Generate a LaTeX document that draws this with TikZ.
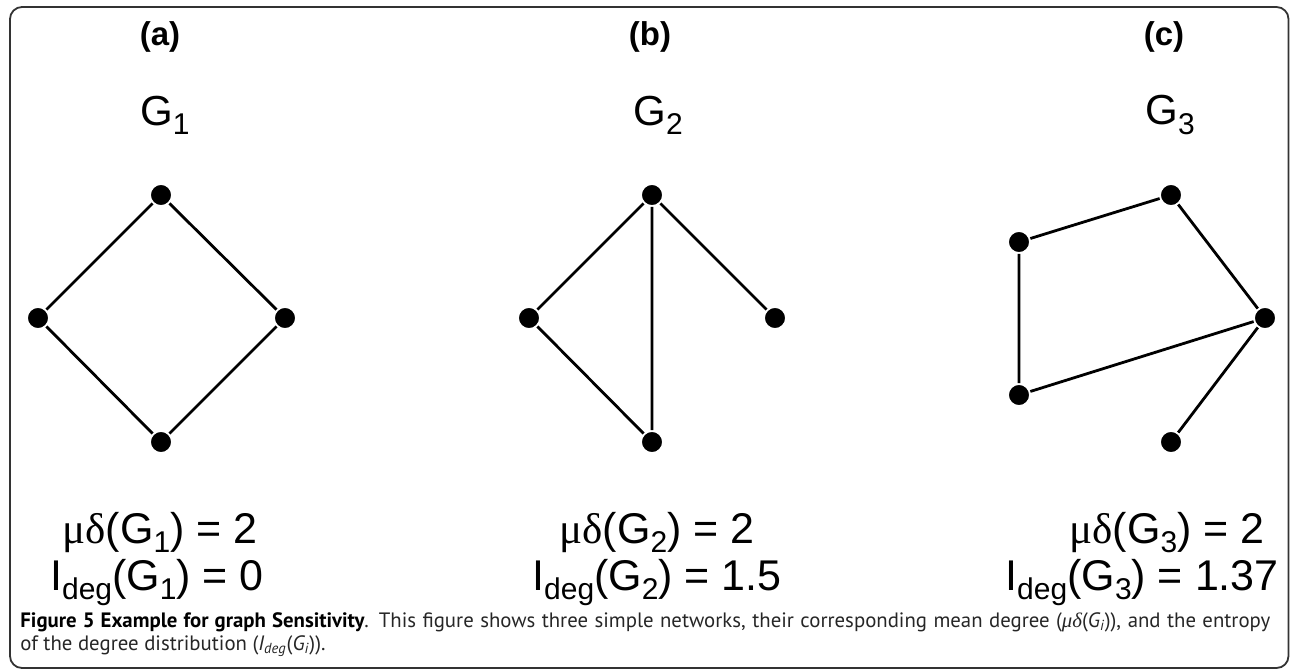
\documentclass[tikz,border=0pt]{standalone}
\usepackage{fontspec}
\setmainfont{Liberation Sans}
\newfontfamily\greekfont{Liberation Serif}
\newfontfamily\capfont{PT Sans}
\usetikzlibrary{positioning}

\newcommand{\lowsub}[1]{\raisebox{-0.42ex}{\fontsize{15}{15}\selectfont #1}}

\begin{document}
\begin{tikzpicture}[
    x=0.5pt, y=-0.5pt,
    % --- Global Styles ---
    vertex/.style={circle, fill=black, draw=white, line width=0.9pt, inner sep=0pt, minimum size=11pt},
    link/.style={line width=1.4pt, black},
    panel/.style={font=\fontsize{16.5}{18}\selectfont\bfseries},
    gname/.style={font=\fontsize{21}{24}\selectfont},
    formula/.style={anchor=base, inner sep=0pt, font=\fontsize{21.5}{24}\selectfont},
    caption/.style={anchor=north west, inner sep=0pt, align=justify, text width=625pt,
        text=black!85, font=\capfont\fontsize{10.4}{11.5}\selectfont},
    frame/.style={draw=black!80, line width=0.9pt, rounded corners=6pt}
]
    \useasboundingbox (0,0) rectangle (1290,670);
    \draw[frame] (10,7) rectangle (1288.5,668);

    % --- Panel titles ---
    \node[panel] (ta) at (160,37) {(a)};
    \node[panel] (tb) at (650,37) {(b)};
    \node[panel] (tc) at (1164,37) {(c)};
    \node[gname] (na) at (165,115) {G\lowsub{1}};
    \node[gname] (nb) at (658,115) {G\lowsub{2}};
    \node[gname] (nc) at (1170,115) {G\lowsub{3}};

    % --- Graph G1 ---
    \node[vertex] (g1n) at (161,195) {};
    \node[vertex] (g1w) at (38,318) {};
    \node[vertex] (g1e) at (285,318) {};
    \node[vertex] (g1s) at (161,442) {};
    \draw[link] (g1n) -- (g1w) (g1n) -- (g1e) (g1w) -- (g1s) (g1e) -- (g1s);

    % --- Graph G2 ---
    \node[vertex] (g2n) at (652,195) {};
    \node[vertex] (g2w) at (529,318) {};
    \node[vertex] (g2e) at (775,318) {};
    \node[vertex] (g2s) at (652,442) {};
    \draw[link] (g2n) -- (g2w) (g2n) -- (g2s) (g2n) -- (g2e) (g2w) -- (g2s);

    % --- Graph G3 ---
    \node[vertex] (g3n) at (1171,195) {};
    \node[vertex] (g3a) at (1019,242) {};
    \node[vertex] (g3b) at (1019,395) {};
    \node[vertex] (g3e) at (1265,318) {};
    \node[vertex] (g3s) at (1171,442) {};
    \draw[link] (g3n) -- (g3a) (g3a) -- (g3b) (g3n) -- (g3e) (g3b) -- (g3e) (g3e) -- (g3s);

    % --- Measures ---
    \node[formula] (ma) at (160,543) {{\greekfont μδ}(G\lowsub{1}) = 2};
    \node[formula] (ia) at (157,590) {I\lowsub{deg}(G\lowsub{1}) = 0};
    \node[formula] (mb) at (657,543) {{\greekfont μδ}(G\lowsub{2}) = 2};
    \node[formula] (ib) at (657,590) {I\lowsub{deg}(G\lowsub{2}) = 1.5};
    \node[formula] (mc) at (1167,543) {{\greekfont μδ}(G\lowsub{3}) = 2};
    \node[formula] (ic) at (1142,590) {I\lowsub{deg}(G\lowsub{3}) = 1.37};

    % --- Caption ---
    \node[caption] (cap) at (20,612) {{\bfseries\color{black}Figure 5 Example for graph Sensitivity}. This figure shows three simple networks, their corresponding mean degree ({\greekfont\itshape μδ}({\itshape G\textsubscript{i}})), and the entropy\linebreak of the degree distribution ({\itshape I\textsubscript{deg}}({\itshape G\textsubscript{i}})).};
\end{tikzpicture}
\end{document}
